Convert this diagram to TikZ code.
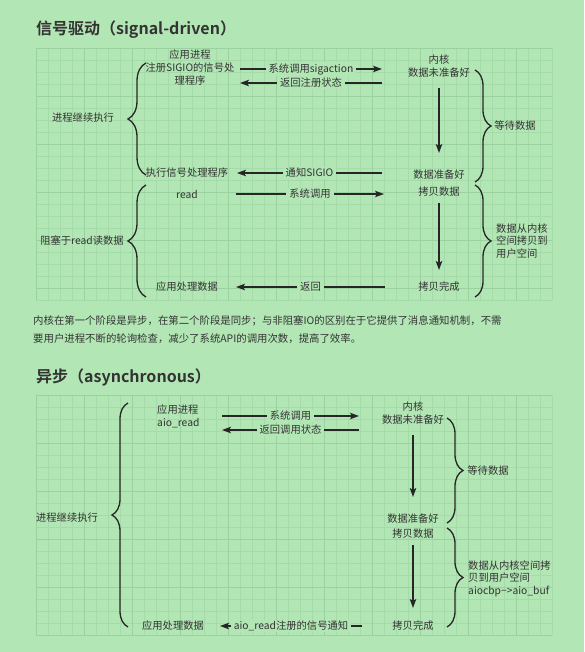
\documentclass[tikz,border=0pt]{standalone}
\usepackage{fontspec}
\setmainfont{Noto Sans CJK SC}[BoldFont={* Bold}]
\usetikzlibrary{arrows.meta,decorations.pathreplacing}
\definecolor{bgcol}{RGB}{179,230,181}
\definecolor{gridmin}{RGB}{165,219,168}
\definecolor{gridmaj}{RGB}{153,210,158}
\definecolor{inkcol}{RGB}{38,38,38}
\definecolor{txtcol}{RGB}{51,51,51}
\begin{document}
\begin{tikzpicture}[x=1pt,y=-1pt,
    txt/.style={text=txtcol,font=\fontsize{10.3}{13}\selectfont,inner sep=0pt,align=center},
    lbl/.style={txt,fill=bgcol,inner xsep=3pt,inner ysep=1pt},
    msg/.style={draw=inkcol,line width=1.2pt,-{Stealth[length=9pt,width=6.5pt,inset=2pt]}},
    flow/.style={msg,line width=1.5pt},
    brc/.style={draw=inkcol,line width=1.3pt,decorate,decoration={brace,amplitude=#1}},
    ttl/.style={text=txtcol,font=\fontsize{16}{18}\selectfont\bfseries,inner sep=0pt,anchor=west}]
    \fill[bgcol] (0,0) rectangle (584,652);
    \foreach \x in {36,48,...,552} {
        \draw[gridmin] (\x,48) -- (\x,300);
        \draw[gridmin] (\x,395) -- (\x,635);
    }
    \foreach \y in {48,60,...,300}
        \draw[gridmin] (36,\y) -- (552,\y);
    \foreach \y in {395,407,...,635}
        \draw[gridmin] (36,\y) -- (552,\y);
    \foreach \x in {36,84,...,552} {
        \draw[gridmaj] (\x,48) -- (\x,300);
        \draw[gridmaj] (\x,395) -- (\x,635);
    }
    \foreach \y in {48,96,...,300}
        \draw[gridmaj] (36,\y) -- (552,\y);
    \foreach \y in {395,443,...,635}
        \draw[gridmaj] (36,\y) -- (552,\y);

    \node[ttl] (title1) at (36,30) {信号驱动（signal-driven）};
    \node[txt] (app) at (190,68) {应用进程\\注册SIGIO的信号处\\理程序};
    \node[txt] (kern) at (439,66) {内核\\数据未准备好};
    \node[txt] (ready) at (439,175) {数据准备好};
    \node[txt] (copy) at (439,192) {拷贝数据};
    \node[txt] (done) at (439,287) {拷贝完成};
    \node[txt] (handler) at (187,173) {执行信号处理程序};
    \node[txt] (rd) at (187,194) {read};
    \node[txt] (proc) at (187,287) {应用处理数据};
    \node[txt] (cont) at (83,118) {进程继续执行};
    \node[txt] (block) at (82,241) {阻塞于read读数据};
    \node[txt] (wait) at (515,126) {等待数据};
    \node[txt,align=left,anchor=west,font=\fontsize{10.3}{12.5}\selectfont] (move) at (496,241) {数据从内核\\空间拷贝到\\用户空间};

    \coordinate (a1) at (240,69); \coordinate (b1) at (382,69);
    \coordinate (a2) at (240,83); \coordinate (b2) at (382,83);
    \coordinate (a3) at (237,173); \coordinate (b3) at (382,173);
    \coordinate (a4) at (236,194); \coordinate (b4) at (384,194);
    \coordinate (a5) at (236,287); \coordinate (b5) at (385,287);
    \draw[msg] (a1) -- node[lbl] {系统调用sigaction} (b1);
    \draw[msg] (b2) -- node[lbl] {返回注册状态} (a2);
    \draw[msg] (b3) -- node[lbl] {通知SIGIO} (a3);
    \draw[msg] (a4) -- node[lbl] {系统调用} (b4);
    \draw[msg] (b5) -- node[lbl] {返回} (a5);
    \coordinate (v1) at (439,88); \coordinate (w1) at (439,153);
    \coordinate (v2) at (439,203); \coordinate (w2) at (439,270);
    \draw[flow] (v1) -- (w1);
    \draw[flow] (v2) -- (w2);
    \draw[brc=18pt] (146,175) -- (146,63);
    \draw[brc=18pt] (146,297) -- (146,185);
    \draw[brc=16pt] (475,70) -- (475,182);
    \draw[brc=16pt] (475,185) -- (475,297);

    \node[anchor=west,text=txtcol,font=\fontsize{10.4}{17.5}\selectfont,align=left,inner sep=0pt] (note) at (33,329.5)
        {内核在第一个阶段是异步，在第二个阶段是同步；与非阻塞IO的区别在于它提供了消息通知机制，不需\\要用户进程不断的轮询检查，减少了系统API的调用次数，提高了效率。};

    \node[ttl] (title2) at (36,377) {异步（asynchronous）};
    \node[txt,align=left,anchor=west] (app2) at (157,416.5) {应用进程\\aio\_read};
    \node[txt] (kern2) at (413,413.5) {内核\\数据未准备好};
    \node[txt] (ready2) at (413,518.5) {数据准备好};
    \node[txt] (copy2) at (413,533.5) {拷贝数据};
    \node[txt] (done2) at (413,626) {拷贝完成};
    \node[txt] (proc2) at (173,626) {应用处理数据};
    \node[txt] (cont2) at (67,518) {进程继续执行};
    \node[txt] (wait2) at (488,471) {等待数据};
    \node[txt,align=left,anchor=west,font=\fontsize{10.3}{12.5}\selectfont] (move2) at (468,578.5) {数据从内核空间拷\\贝到用户空间\\aiocbp−>aio\_buf};

    \coordinate (c1) at (222,416); \coordinate (d1) at (359,416);
    \coordinate (c2) at (222,430); \coordinate (d2) at (359,430);
    \coordinate (c3) at (220,626); \coordinate (d3) at (362,626);
    \draw[msg] (c1) -- node[lbl] {系统调用} (d1);
    \draw[msg] (d2) -- node[lbl] {返回调用状态} (c2);
    \draw[msg] (d3) -- node[lbl] {aio\_read注册的信号通知} (c3);
    \coordinate (v3) at (413,435); \coordinate (w3) at (413,497);
    \coordinate (v4) at (413,545); \coordinate (w4) at (413,608);
    \draw[flow] (v3) -- (w3);
    \draw[flow] (v4) -- (w4);
    \draw[brc=16pt] (128,627) -- (128,403);
    \draw[brc=16pt] (447,418) -- (447,523);
    \draw[brc=16pt] (447,528) -- (447,627);
\end{tikzpicture}
\end{document}
